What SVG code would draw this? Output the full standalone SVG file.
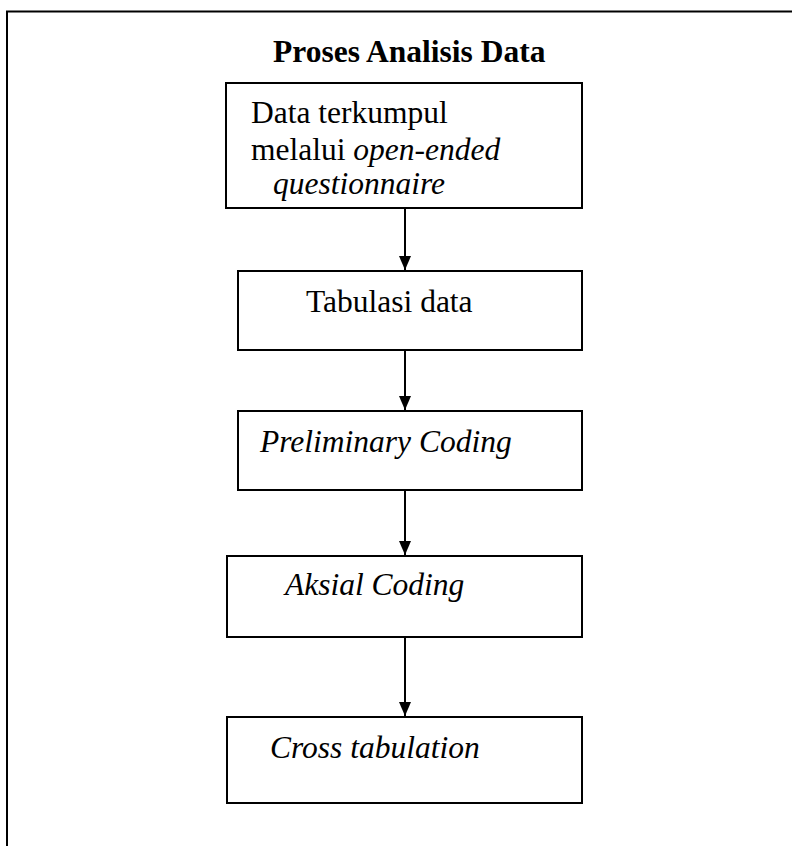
<svg xmlns="http://www.w3.org/2000/svg" width="792" height="846" viewBox="0 0 792 846">
<style>
.box{fill:#fff;stroke:#000;stroke-width:2}
.t{font-family:"Liberation Serif","Times New Roman",serif;font-size:31.5px;fill:#000}
.i{font-style:italic}
.b{font-weight:bold}
.c{stroke:#000;stroke-width:2;fill:none}
</style>
<defs>
<marker id="ah" markerWidth="14" markerHeight="12" refX="14" refY="6" orient="auto" markerUnits="userSpaceOnUse" viewBox="0 0 14 12">
<path d="M0,0 L14,6 L0,12 Z" fill="#000"/>
</marker>
</defs>
<rect width="792" height="846" fill="#fff"/>
<g id="frame">
<path class="c" d="M7,846 L7,11.5 L792,11.5"/>
</g>
<text id="title" class="t b" x="273" y="62">Proses Analisis Data</text>
<g id="n1">
<rect class="box" x="226" y="83" width="356" height="125"/>
<text class="t" x="251" y="123">Data terkumpul</text>
<text class="t" x="251" y="160">melalui <tspan class="i">open-ended</tspan></text>
<text class="t i" x="273" y="194">questionnaire</text>
</g>
<g id="n2">
<rect class="box" x="238" y="271" width="344" height="79"/>
<text class="t" x="306" y="312">Tabulasi data</text>
</g>
<g id="n3">
<rect class="box" x="238" y="411" width="344" height="79"/>
<text class="t i" x="260" y="452">Preliminary Coding</text>
</g>
<g id="n4">
<rect class="box" x="227" y="556" width="355" height="81"/>
<text class="t i" x="285" y="595">Aksial Coding</text>
</g>
<g id="n5">
<rect class="box" x="227" y="717" width="355" height="86"/>
<text class="t i" x="270" y="758">Cross tabulation</text>
</g>
<g id="connectors">
<line class="c" x1="405" y1="208" x2="405" y2="270" marker-end="url(#ah)"/>
<line class="c" x1="405" y1="350" x2="405" y2="410" marker-end="url(#ah)"/>
<line class="c" x1="405" y1="490" x2="405" y2="555" marker-end="url(#ah)"/>
<line class="c" x1="405" y1="637" x2="405" y2="716" marker-end="url(#ah)"/>
</g>
</svg>
